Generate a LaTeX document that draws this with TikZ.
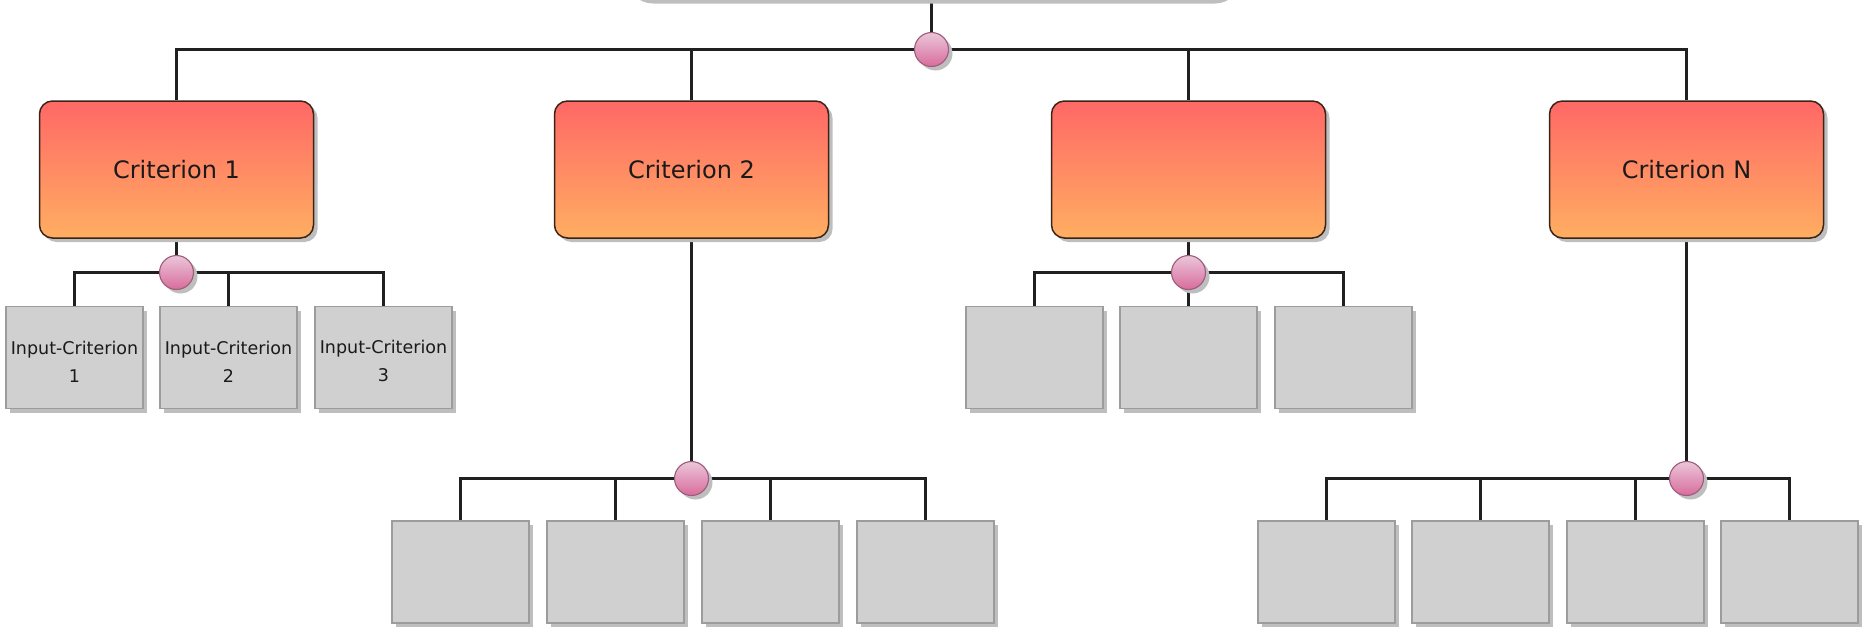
\documentclass[tikz,border=0pt]{standalone}
\usepackage{fontspec}
\setmainfont{DejaVu Sans}
\usetikzlibrary{shadows}
\pgfdeclarelayer{bg}
\pgfsetlayers{bg,main}
\definecolor{crtop}{HTML}{FF6866}
\definecolor{crbot}{HTML}{FFAE62}
\definecolor{crborder}{HTML}{3A2418}
\definecolor{jtop}{HTML}{EBC6DA}
\definecolor{jbot}{HTML}{D86C9C}
\definecolor{jborder}{HTML}{9C5C7C}
\definecolor{boxfill}{HTML}{D0D0D0}
\definecolor{boxborder}{HTML}{9C9C9C}
\definecolor{shadowc}{HTML}{BEBEBE}
\definecolor{linec}{HTML}{202020}
\definecolor{textc}{HTML}{1A1A1A}
\newcommand{\topstrut}{\rule{0pt}{21pt}}
\begin{document}
\begin{tikzpicture}[x=1pt,y=-1pt,
  shad/.style={general shadow={fill=shadowc, shadow xshift=4pt, shadow yshift=-4pt}},
  crit/.style={rectangle, rounded corners=13pt, minimum width=274pt, minimum height=137pt,
    inner sep=0pt, draw=crborder, line width=1.5pt, top color=crtop, bottom color=crbot,
    shad, font=\fontsize{24}{29}\selectfont, text=textc},
  junc/.style={circle, minimum size=34pt, inner sep=0pt, draw=jborder, line width=1.1pt,
    top color=jtop, bottom color=jbot, shad},
  inbox/.style={rectangle, minimum width=137pt, minimum height=102pt, inner sep=0pt,
    draw=boxborder, line width=1.4pt, fill=boxfill, shad,
    font=\fontsize{17.5}{28}\selectfont, align=center, text=textc},
  conn/.style={draw=linec, line width=2.1pt}]
\useasboundingbox (0,0) rectangle (1865,635);
\clip (0,0) rectangle (1865,635);
% partially visible top element (shadow only)
\fill[shadowc, rounded corners=26pt] (627,-70) rectangle (1241,3.5);
\coordinate (rt) at (931.5,0);

% criteria
\node[crit] (C1) at (176.5,169.5) {Criterion 1};
\node[crit] (C2) at (691.5,169.5) {Criterion 2};
\node[crit] (C3) at (1188.5,169.5) {};
\node[crit] (CN) at (1686.5,169.5) {Criterion N};

% group 1
\node[inbox] (I11) at (74.5,357.5) {\topstrut Input-Criterion\\1};
\node[inbox] (I12) at (228.5,357.5) {\topstrut Input-Criterion\\2};
\node[inbox] (I13) at (383.5,357.5) {\topstrut Input-Criterion\\3};
% group 3
\node[inbox] (I31) at (1034.5,357.5) {};
\node[inbox] (I32) at (1188.5,357.5) {};
\node[inbox] (I33) at (1343.5,357.5) {};
% group 2
\node[inbox] (I21) at (460.5,572) {};
\node[inbox] (I22) at (615.5,572) {};
\node[inbox] (I23) at (770.5,572) {};
\node[inbox] (I24) at (925.5,572) {};
% group N
\node[inbox] (IN1) at (1326.5,572) {};
\node[inbox] (IN2) at (1480.5,572) {};
\node[inbox] (IN3) at (1635.5,572) {};
\node[inbox] (IN4) at (1789.5,572) {};

% junctions
\node[junc] (J0) at (931.5,49.5) {};
\node[junc] (J1) at (176.5,272.5) {};
\node[junc] (J3) at (1188.5,272.5) {};
\node[junc] (J2) at (691.5,478.5) {};
\node[junc] (JN) at (1686.5,478.5) {};

% connectors
\begin{pgfonlayer}{bg}
\path[conn] (rt) -- (J0);
\path[conn] (J0) -| (C1.north);
\path[conn] (J0) -| (CN.north);
\path[conn] (C2.north) -- (C2.north |- J0);
\path[conn] (C3.north) -- (C3.north |- J0);

\path[conn] (C1.south) -- (J1);
\path[conn] (J1) -| (I11.north);
\path[conn] (J1) -| (I13.north);
\path[conn] (I12.north) -- (I12.north |- J1);

\path[conn] (C3.south) -- (I32.north);
\path[conn] (J3) -| (I31.north);
\path[conn] (J3) -| (I33.north);

\path[conn] (C2.south) -- (J2);
\path[conn] (J2) -| (I21.north);
\path[conn] (J2) -| (I24.north);
\path[conn] (I22.north) -- (I22.north |- J2);
\path[conn] (I23.north) -- (I23.north |- J2);

\path[conn] (CN.south) -- (JN);
\path[conn] (JN) -| (IN1.north);
\path[conn] (JN) -| (IN4.north);
\path[conn] (IN2.north) -- (IN2.north |- JN);
\path[conn] (IN3.north) -- (IN3.north |- JN);
\end{pgfonlayer}
\end{tikzpicture}
\end{document}
